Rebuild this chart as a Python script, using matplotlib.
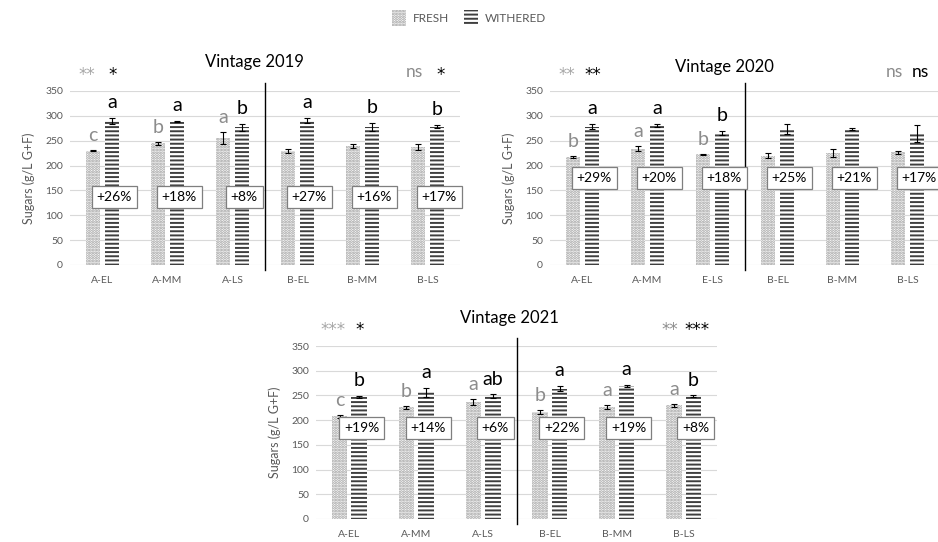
import matplotlib.pyplot as plt
import matplotlib.patches as mpatches
import numpy as np

plt.rcParams['font.family'] = ['Lato', 'DejaVu Sans']
plt.rcParams['hatch.linewidth'] = 1.4

# data
cats_2019 = ['A-EL', 'A-MM', 'A-LS', 'B-EL', 'B-MM', 'B-LS']
cats_2020 = ['A-EL', 'A-MM', 'E-LS', 'B-EL', 'B-MM', 'B-LS']
cats_2021 = ['A-EL', 'A-MM', 'A-LS', 'B-EL', 'B-MM', 'B-LS']

fresh_2019 = [230, 245, 255, 229, 240, 238]
fresh_err_2019 = [1, 3, 12, 4, 4, 6]
withered_2019 = [290, 288, 277, 290, 277, 278]
withered_err_2019 = [6, 1, 7, 5, 8, 3]
pct_2019 = ['+26%', '+18%', '+8%', '+27%', '+16%', '+17%']
fresh_letters_2019 = ['c', 'b', 'a', '', '', '']
withered_letters_2019 = ['a', 'a', 'b', 'a', 'b', 'b']
sig_2019 = ['**', '*', 'ns', '*']

fresh_2020 = [217, 234, 223, 220, 225, 227]
fresh_err_2020 = [2, 5, 1, 5, 8, 3]
withered_2020 = [278, 280, 265, 273, 273, 265]
withered_err_2020 = [5, 3, 4, 10, 2, 17]
pct_2020 = ['+29%', '+20%', '+18%', '+25%', '+21%', '+17%']
fresh_letters_2020 = ['b', 'a', 'b', '', '', '']
withered_letters_2020 = ['a', 'a', 'b', '', '', '']
sig_2020 = ['**', '**', 'ns', 'ns']

fresh_2021 = [208, 226, 236, 217, 227, 230]
fresh_err_2021 = [3, 3, 6, 4, 4, 3]
withered_2021 = [247, 256, 248, 264, 270, 248]
withered_err_2021 = [2, 9, 4, 5, 2, 2]
pct_2021 = ['+19%', '+14%', '+6%', '+22%', '+19%', '+8%']
fresh_letters_2021 = ['c', 'b', 'a', 'b', 'a', 'a']
withered_letters_2021 = ['b', 'a', 'ab', 'a', 'a', 'b']
sig_2021 = ['***', '*', '**', '***']

TXT = '#595959'
GRAY_LETTER = '#8c8c8c'
FRESH_HATCH = dict(facecolor='white', edgecolor='#9a9a9a', hatch='......', linewidth=0)
WITH_HATCH = dict(facecolor='white', edgecolor='#3f3f3f', hatch='----', linewidth=0)

fig = plt.figure(figsize=(9.38, 5.42), dpi=100)


def sig_text(ax, x, s, color):
    # asterisks drawn in DejaVu (Lato's are tiny), "ns" in the main font
    if s == 'ns':
        ax.text(x, 378, s, ha='center', va='baseline', fontsize=12.5, color=color)
    else:
        ax.text(x, 372, s, ha='center', va='baseline', fontsize=12,
                family='DejaVu Sans', color=color)


def draw_panel(rect, cats, fresh, ferr, wit, werr, pcts, fl, wl, sig, title, title_xy, box_y):
    ax = fig.add_axes(rect)
    x = np.arange(len(cats)) + 0.5
    w = 0.23
    ax.bar(x - 0.146, fresh, w, **FRESH_HATCH)
    ax.bar(x + 0.146, wit, w, **WITH_HATCH)
    ax.errorbar(x - 0.146, fresh, yerr=ferr, fmt='none', ecolor='black',
                elinewidth=0.8, capsize=2.5, capthick=0.8)
    ax.errorbar(x + 0.146, wit, yerr=werr, fmt='none', ecolor='black',
                elinewidth=0.8, capsize=2.5, capthick=0.8)

    for i in range(len(cats)):
        if fl[i]:
            ax.text(x[i] - 0.146, fresh[i] + ferr[i] + 18, fl[i], ha='center',
                    va='baseline', fontsize=14, color=GRAY_LETTER)
        if wl[i]:
            ax.text(x[i] + 0.146, wit[i] + werr[i] + 20, wl[i], ha='center',
                    va='baseline', fontsize=14, color='black')
        ax.text(x[i] + 0.18, box_y, pcts[i], ha='center', va='center', fontsize=10,
                color='black', zorder=5,
                bbox=dict(boxstyle='square,pad=0.35', facecolor='white',
                          edgecolor='#7f7f7f', linewidth=0.9))

    # significance marks above first and last group
    sig_text(ax, x[0] - 0.24, sig[0], '#a6a6a6')
    sig_text(ax, x[0] + 0.16, sig[1], 'black')
    sig_text(ax, x[-1] - 0.2, sig[2], '#8c8c8c')
    sig_text(ax, x[-1] + 0.2, sig[3], 'black')

    ax.text(title_xy[0], title_xy[1], title, ha='center', va='baseline', fontsize=12,
            color='black')

    ax.plot([3, 3], [-10, 366], color='black', lw=1, clip_on=False)

    ax.set_xlim(0, 6)
    ax.set_ylim(0, 350)
    ax.set_yticks(np.arange(0, 351, 50))
    ax.set_xticks(x)
    ax.set_xticklabels(cats)
    ax.grid(axis='y', color='#d9d9d9', lw=0.8)
    ax.set_axisbelow(True)
    for s in ax.spines.values():
        s.set_visible(False)
    ax.tick_params(axis='both', length=0, labelsize=7.5, colors=TXT, pad=5)
    ax.tick_params(axis='x', pad=8)
    ax.set_ylabel('Sugars (g/L G+F)', fontsize=9, color=TXT, labelpad=7)
    return ax


W, H = 938, 542
draw_panel([70 / W, 1 - 265 / H, 390 / W, 174 / H], cats_2019, fresh_2019, fresh_err_2019,
           withered_2019, withered_err_2019, pct_2019, fresh_letters_2019,
           withered_letters_2019, sig_2019, 'Vintage 2019', (2.83, 398), 137)
draw_panel([550 / W, 1 - 265 / H, 390 / W, 174 / H], cats_2020, fresh_2020, fresh_err_2020,
           withered_2020, withered_err_2020, pct_2020, fresh_letters_2020,
           withered_letters_2020, sig_2020, 'Vintage 2020', (2.69, 388), 175)
draw_panel([316 / W, 1 - 519 / H, 401 / W, 173 / H], cats_2021, fresh_2021, fresh_err_2021,
           withered_2021, withered_err_2021, pct_2021, fresh_letters_2021,
           withered_letters_2021, sig_2021, 'Vintage 2021', (2.9, 397), 184)

handles = [mpatches.Patch(label='FRESH', **FRESH_HATCH),
           mpatches.Patch(label='WITHERED', **WITH_HATCH)]
fig.legend(handles=handles, loc='center', bbox_to_anchor=(0.5, 1 - 18 / H), ncol=2,
           frameon=False, fontsize=8.5, labelcolor=TXT, handlelength=1.2, handleheight=1.6,
           columnspacing=1.2, handletextpad=0.6)

fig.savefig('out.png', dpi=100)
